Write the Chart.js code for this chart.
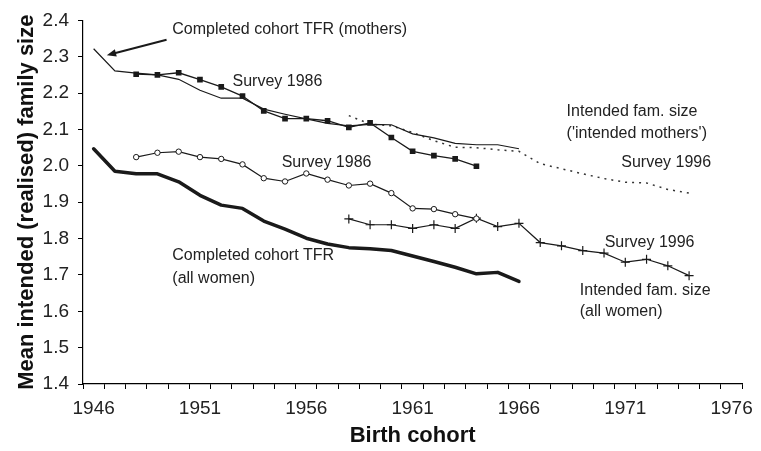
<!DOCTYPE html>
<html>
<head>
<meta charset="utf-8">
<script src="https://cdn.jsdelivr.net/npm/chart.js@4/dist/chart.umd.min.js"></script>
<style>
  html, body { margin: 0; padding: 0; background: #fff; }
  #wrap { width: 761px; height: 451px; }
</style>
</head>
<body>
<div id="wrap"><canvas id="chartCohorte"></canvas></div>
<script>
// Cohortes de nacimiento (eje de categorías)
const years = ['1946','1947','1948','1949','1950','1951','1952','1953','1954','1955','1956',
  '1957','1958','1959','1960','1961','1962','1963','1964','1965','1966',
  '1967','1968','1969','1970','1971','1972','1973','1974','1975','1976'];

// TFR completada de cohorte (madres), 1946-1966
const tfrMothers = [2.322, 2.261, 2.255, 2.250, 2.238, 2.208, 2.186, 2.186, 2.156, 2.142, 2.129,
  2.117, 2.110, 2.114, 2.113, 2.088, 2.077, 2.062, 2.058, 2.058, 2.047,
  null, null, null, null, null, null, null, null, null, null];

// Encuesta 1986, madres (cuadrados), 1948-1964
const survey86Mothers = [null, null, 2.252, 2.250, 2.256, 2.237, 2.217, 2.192, 2.151, 2.130, 2.130,
  2.124, 2.106, 2.118, 2.078, 2.040, 2.028, 2.019, 1.999,
  null, null, null, null, null, null, null, null, null, null, null, null];

// Encuesta 1996, tamaño deseado ('intended mothers'), punteada, 1958-1974
const survey96Mothers = [null, null, null, null, null, null, null, null, null, null, null, null,
  2.138, 2.115, 2.110, 2.092, 2.069, 2.051, 2.050, 2.044, 2.040,
  2.006, 1.992, 1.978, 1.965, 1.955, 1.953, 1.935, 1.925, null, null];

// Encuesta 1986, todas las mujeres (círculos), 1948-1964
const survey86All = [null, null, 2.024, 2.036, 2.039, 2.024, 2.019, 2.004, 1.966, 1.957, 1.979,
  1.962, 1.946, 1.951, 1.925, 1.883, 1.881, 1.867, 1.855,
  null, null, null, null, null, null, null, null, null, null, null, null];

// Encuesta 1996, todas las mujeres (cruces), 1958-1974
const survey96All = [null, null, null, null, null, null, null, null, null, null, null, null,
  1.854, 1.838, 1.838, 1.828, 1.838, 1.828, 1.856, 1.833, 1.842,
  1.789, 1.780, 1.767, 1.760, 1.735, 1.743, 1.725, 1.698, null, null];

// TFR completada de cohorte (todas las mujeres), 1946-1966
const tfrAll = [2.047, 1.985, 1.978, 1.978, 1.956, 1.919, 1.892, 1.883, 1.848, 1.826, 1.801,
  1.785, 1.775, 1.772, 1.767, 1.752, 1.737, 1.721, 1.703, 1.707, 1.682,
  null, null, null, null, null, null, null, null, null, null];

// Textos del gráfico: [texto, año (izq.), valor (centro)]
const notes = [
  ['Completed cohort TFR (mothers)', 1949.7, 2.375],
  ['Survey 1986', 1952.53, 2.233],
  ['Intended fam. size', 1968.24, 2.149],
  ["('intended mothers')", 1968.24, 2.088],
  ['Survey 1996', 1970.81, 2.008],
  ['Survey 1986', 1954.84, 2.009],
  ['Completed cohort TFR', 1949.7, 1.752],
  ['(all women)', 1949.7, 1.691],
  ['Survey 1996', 1970.03, 1.789],
  ['Intended fam. size', 1968.86, 1.658],
  ['(all women)', 1968.86, 1.598]
];
// Flecha: desde el texto hacia la línea de madres
const arrowFrom = [1949.43, 2.347];
const arrowTo = [1946.62, 2.304];

const FONT = 'Arial, "Liberation Sans", sans-serif';
const INK = '#1a1a1a';

const notesPlugin = {
  id: 'notes',
  afterDatasetsDraw(chart) {
    const {ctx, scales: {x, y}} = chart;
    const px = yr => x.getPixelForValue(yr - 1946);
    ctx.save();
    ctx.fillStyle = '#222';
    ctx.font = '16px ' + FONT;
    ctx.textAlign = 'left';
    ctx.textBaseline = 'middle';
    notes.forEach(([t, yr, v]) => ctx.fillText(t, px(yr), y.getPixelForValue(v)));

    // flecha
    const x1 = px(arrowFrom[0]), y1 = y.getPixelForValue(arrowFrom[1]);
    const x2 = px(arrowTo[0]), y2 = y.getPixelForValue(arrowTo[1]);
    const ang = Math.atan2(y2 - y1, x2 - x1);
    const head = 10;
    ctx.strokeStyle = INK;
    ctx.lineWidth = 2;
    ctx.beginPath();
    ctx.moveTo(x1, y1);
    ctx.lineTo(x2 - Math.cos(ang) * head * 0.8, y2 - Math.sin(ang) * head * 0.8);
    ctx.stroke();
    ctx.fillStyle = INK;
    ctx.beginPath();
    ctx.moveTo(x2, y2);
    ctx.lineTo(x2 - head * Math.cos(ang - 0.38), y2 - head * Math.sin(ang - 0.38));
    ctx.lineTo(x2 - head * Math.cos(ang + 0.38), y2 - head * Math.sin(ang + 0.38));
    ctx.closePath();
    ctx.fill();
    ctx.restore();
  }
};

const ctxCohorte = document.getElementById('chartCohorte').getContext('2d');
new Chart(ctxCohorte, {
  type: 'line',
  data: {
    labels: years,
    datasets: [
      { label: 'TFR mothers', data: tfrMothers, borderColor: INK, borderWidth: 1.2, pointRadius: 0 },
      { label: 'Survey 1986 mothers', data: survey86Mothers, borderColor: INK, borderWidth: 1.3,
        pointStyle: 'rect', pointRadius: 4, pointBackgroundColor: INK, pointBorderColor: INK, pointBorderWidth: 0 },
      { label: 'Survey 1996 intended mothers', data: survey96Mothers, borderColor: '#333', borderWidth: 1.5,
        borderDash: [2, 5], pointRadius: 0 },
      { label: 'Survey 1986 all', data: survey86All, borderColor: INK, borderWidth: 1.2,
        pointStyle: 'circle', pointRadius: 2.7, pointBackgroundColor: '#fff', pointBorderColor: INK, pointBorderWidth: 1 },
      { label: 'Survey 1996 all', data: survey96All, borderColor: INK, borderWidth: 1.2,
        pointStyle: 'cross', pointRadius: 4.5, pointBorderColor: INK, pointBorderWidth: 1.2 },
      { label: 'TFR all', data: tfrAll, borderColor: INK, borderWidth: 3.5, pointRadius: 0,
        borderCapStyle: 'round', borderJoinStyle: 'round' }
    ]
  },
  options: {
    responsive: true,
    maintainAspectRatio: false,
    animation: false,
    events: [],
    layout: { padding: { left: 0, right: 15, top: 19, bottom: 0 } },
    elements: { line: { tension: 0, fill: false } },
    plugins: { legend: { display: false }, tooltip: { enabled: false } },
    scales: {
      x: {
        type: 'category',
        offset: true,
        grid: { offset: true, drawOnChartArea: false, drawTicks: true, tickLength: 5, color: '#000', lineWidth: 1 },
        border: { display: true, color: '#000', width: 1.2 },
        ticks: {
          autoSkip: false, maxRotation: 0, minRotation: 0, padding: 8, color: '#222',
          font: { family: FONT, size: 19 },
          callback: (v, i) => (i % 5 === 0 ? years[i] : '')
        },
        title: { display: true, text: 'Birth cohort', color: '#111',
          font: { family: FONT, size: 22, weight: 'bold' }, padding: { top: 0, bottom: 1.5 } },
        afterFit: s => { s.height = 67; }
      },
      y: {
        min: 1.4, max: 2.4,
        grid: { drawOnChartArea: false, drawTicks: true, tickLength: 5, color: '#000', lineWidth: 1 },
        border: { display: true, color: '#000', width: 1.2 },
        ticks: { stepSize: 0.1, padding: 9, color: '#222', font: { family: FONT, size: 19 },
          callback: v => Number(v).toFixed(1) },
        title: { display: true, text: 'Mean intended (realised) family size', color: '#111',
          font: { family: FONT, size: 22, weight: 'bold' }, padding: { top: 14, bottom: 0 } },
        afterFit: s => { s.width = 83; }
      }
    }
  },
  plugins: [notesPlugin]
});
</script>
</body>
</html>
